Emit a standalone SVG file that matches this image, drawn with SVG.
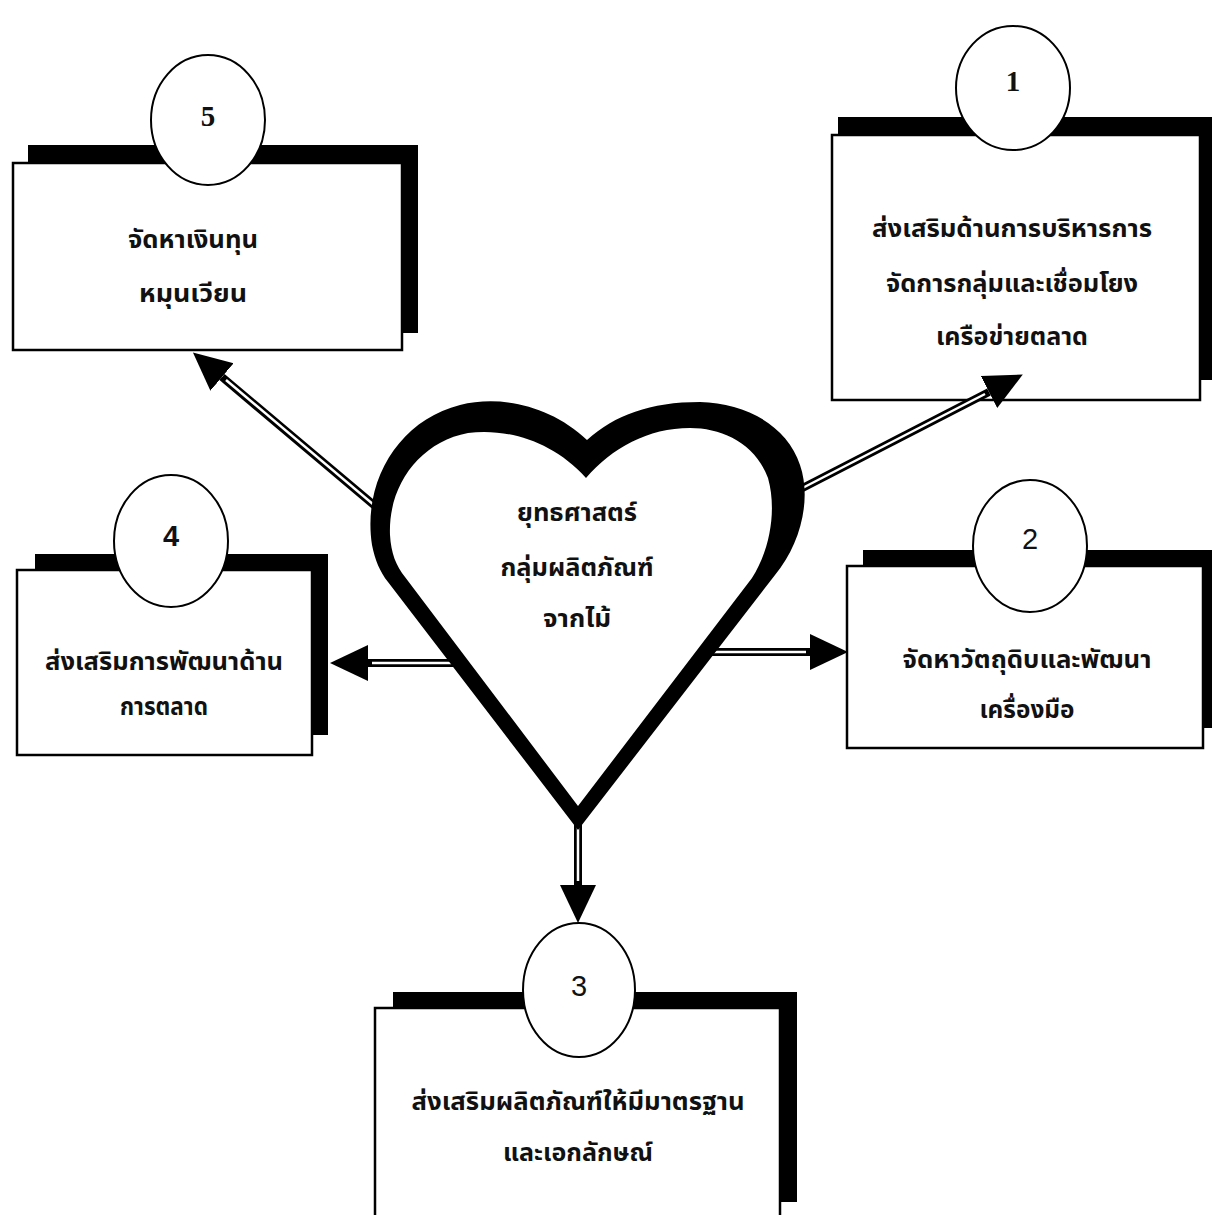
<svg xmlns="http://www.w3.org/2000/svg" width="1212" height="1215" viewBox="0 0 1212 1215">
<style>
.shadow{fill:#000}
.box{fill:#fff;stroke:#000;stroke-width:2.5}
.num-c{fill:#fff;stroke:#000;stroke-width:2}
.num{font-family:"Liberation Serif",serif;font-size:29px;font-weight:bold;text-anchor:middle;fill:#111}
.lbl{font-family:"Noto Sans Thai","Noto Sans","DejaVu Sans",sans-serif;font-size:24px;font-weight:bold;text-anchor:middle;fill:#111}
.sh-o{stroke:#000;stroke-width:8;fill:none}
.sh-i{stroke:#fff;stroke-width:2.5;fill:none}
</style>
<defs>
<marker id="ah" markerUnits="userSpaceOnUse" markerWidth="40" markerHeight="40" viewBox="0 -20 40 40" refX="0" refY="0" orient="auto">
<path d="M0,-18 L38,0 L0,18 Z" fill="#000"/>
</marker>
</defs>
<rect width="1212" height="1215" fill="#fff"/>
<g id="node5">
<rect class="shadow" x="28" y="145" width="390" height="188"/>
<rect class="box" x="13" y="163" width="389" height="187"/>
<ellipse class="num-c" cx="208" cy="120" rx="57" ry="65"/>
<text class="num" x="208" y="126">5</text>
<text class="lbl" x="193" y="248" textLength="130" lengthAdjust="spacingAndGlyphs">จัดหาเงินทุน</text>
<text class="lbl" x="193" y="302" textLength="108" lengthAdjust="spacingAndGlyphs">หมุนเวียน</text>
</g>
<g id="node1">
<rect class="shadow" x="838" y="117" width="380" height="263"/>
<rect class="box" x="832" y="135" width="368" height="265"/>
<ellipse class="num-c" cx="1013" cy="88" rx="57" ry="62"/>
<text class="num" x="1013" y="91">1</text>
<text class="lbl" x="1012" y="237" textLength="280" lengthAdjust="spacingAndGlyphs">ส่งเสริมด้านการบริหารการ</text>
<text class="lbl" x="1012" y="292" textLength="252" lengthAdjust="spacingAndGlyphs">จัดการกลุ่มและเชื่อมโยง</text>
<text class="lbl" x="1012" y="345" textLength="152" lengthAdjust="spacingAndGlyphs">เครือข่ายตลาด</text>
</g>
<g id="node4">
<rect class="shadow" x="35" y="554" width="293" height="181"/>
<rect class="box" x="17" y="570" width="295" height="185"/>
<ellipse class="num-c" cx="171" cy="541" rx="57" ry="66"/>
<text class="num" x="171" y="546" style="font-family:'Liberation Sans',sans-serif">4</text>
<text class="lbl" x="164" y="670" textLength="238" lengthAdjust="spacingAndGlyphs">ส่งเสริมการพัฒนาด้าน</text>
<text class="lbl" x="164" y="715" textLength="88" lengthAdjust="spacingAndGlyphs">การตลาด</text>
</g>
<g id="node2">
<rect class="shadow" x="863" y="550" width="355" height="178"/>
<rect class="box" x="847" y="566" width="356" height="182"/>
<ellipse class="num-c" cx="1030" cy="546" rx="57" ry="66"/>
<text class="num" x="1030" y="549" style="font-family:'Liberation Sans',sans-serif;font-weight:normal">2</text>
<text class="lbl" x="1027" y="668" textLength="249" lengthAdjust="spacingAndGlyphs">จัดหาวัตถุดิบและพัฒนา</text>
<text class="lbl" x="1027" y="718" textLength="95" lengthAdjust="spacingAndGlyphs">เครื่องมือ</text>
</g>
<g id="node3">
<rect class="shadow" x="393" y="992" width="404" height="210"/>
<rect class="box" x="375" y="1008" width="405" height="220"/>
<ellipse class="num-c" cx="579" cy="990" rx="56" ry="67"/>
<text class="num" x="579" y="996" style="font-family:'Liberation Sans',sans-serif;font-weight:normal">3</text>
<text class="lbl" x="578" y="1110" textLength="333" lengthAdjust="spacingAndGlyphs">ส่งเสริมผลิตภัณฑ์ให้มีมาตรฐาน</text>
<text class="lbl" x="578" y="1161" textLength="150" lengthAdjust="spacingAndGlyphs">และเอกลักษณ์</text>
</g>
<g id="connectors">
<line class="sh-o" x1="400" y1="527" x2="222" y2="377" marker-end="url(#ah)"/>
<line class="sh-i" x1="400" y1="527" x2="226" y2="380"/>
<line class="sh-o" x1="785" y1="497" x2="989" y2="392" marker-end="url(#ah)"/>
<line class="sh-i" x1="785" y1="497" x2="985" y2="394"/>
<line class="sh-o" x1="460" y1="663" x2="368" y2="663" marker-end="url(#ah)"/>
<line class="sh-i" x1="460" y1="663" x2="372" y2="663"/>
<line class="sh-o" x1="700" y1="652" x2="810" y2="652" marker-end="url(#ah)"/>
<line class="sh-i" x1="700" y1="652" x2="806" y2="652"/>
<line class="sh-o" x1="578" y1="815" x2="578" y2="885" marker-end="url(#ah)"/>
<line class="sh-i" x1="578" y1="815" x2="578" y2="881"/>
</g>
<g id="heart">
<path d="M 587 440 C 550 405, 500 395, 460 405 C 400 420, 362 480, 372 545 C 375 560, 380 572, 388 582 L 578 830 L 775 575 C 800 545, 812 500, 800 465 C 787 425, 745 403, 700 402 C 650 402, 615 415, 587 440 Z" fill="#000"/>
<path d="M 586 478 C 552 440, 505 428, 468 433 C 420 442, 388 485, 390 535 C 391 553, 396 566, 405 577 L 578 806 L 752 578 C 770 550, 777 510, 768 478 C 755 443, 722 428, 690 428 C 648 428, 612 448, 586 478 Z" fill="#fff"/>
<text class="lbl" x="577" y="521" textLength="120" lengthAdjust="spacingAndGlyphs">ยุทธศาสตร์</text>
<text class="lbl" x="577" y="576" textLength="153" lengthAdjust="spacingAndGlyphs">กลุ่มผลิตภัณฑ์</text>
<text class="lbl" x="577" y="627" textLength="68" lengthAdjust="spacingAndGlyphs">จากไม้</text>
</g>
</svg>
